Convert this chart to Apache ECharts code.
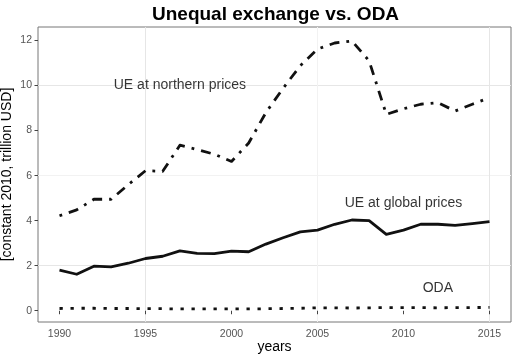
<!DOCTYPE html>
<html>
<head>
<meta charset="utf-8">
<script src="https://cdn.jsdelivr.net/npm/echarts@6/dist/echarts.min.js"></script>
<style>html,body{margin:0;padding:0;background:#fff}#c{width:512px;height:357px}</style>
</head>
<body>
<div id="c"></div>
<script>
var years = [1990,1991,1992,1993,1994,1995,1996,1997,1998,1999,2000,2001,2002,2003,2004,2005,2006,2007,2008,2009,2010,2011,2012,2013,2014,2015];
var ueNorthern = [4.22,4.48,4.95,4.95,5.6,6.22,6.19,7.35,7.16,6.95,6.63,7.45,8.8,9.88,10.88,11.62,11.89,11.98,11.1,8.72,8.97,9.17,9.24,8.87,9.17,9.46];
var ueGlobal = [1.8,1.62,1.98,1.95,2.11,2.32,2.42,2.66,2.55,2.54,2.65,2.62,2.96,3.24,3.5,3.58,3.84,4.03,4.0,3.39,3.58,3.84,3.84,3.79,3.87,3.96];
var oda = [0.10,0.11,0.11,0.10,0.10,0.09,0.09,0.08,0.08,0.08,0.08,0.08,0.09,0.10,0.11,0.13,0.13,0.12,0.13,0.14,0.14,0.14,0.13,0.14,0.14,0.15];
var xTicks = [1990,1995,2000,2005,2010,2015];
var yTicks = [0,2,4,6,8,10,12];
var annoText = ['UE at northern prices','UE at global prices','ODA'];
var annoYear = [1997,2010,2012];
var annoValue = [10,4.8,1];

function pairs(vals){ return years.map(function(y,i){ return [y, vals[i]]; }); }
var FONT = '"Liberation Sans", Arial, sans-serif';
var T = 'rgba(0,0,0,0)';
var chart = echarts.init(document.getElementById('c'), null, {renderer:'canvas'});
chart.setOption({
  animation:false,
  backgroundColor:'#fff',
  title:{text:'Unequal exchange vs. ODA', left:147, top:0,
    textStyle:{fontFamily:FONT, fontSize:19, fontWeight:'bold', color:'#000'}},
  grid:{left:38, right:1, top:27, bottom:35, show:true, borderColor:'#777', borderWidth:1, backgroundColor:'#fff',
    containLabel:false, outerBoundsMode:'none'},
  xAxis:{type:'value', min:1988.75, max:2016.25, interval:1.25,
    name:'years', nameLocation:'middle', nameGap:18, nameMoveOverlap:false,
    nameTextStyle:{fontFamily:FONT, fontSize:14, color:'#000'},
    axisLine:{show:false},
    axisTick:{show:true, length:3.5, customValues:xTicks, lineStyle:{color:'#444', width:1}},
    axisLabel:{customValues:xTicks, margin:7, fontFamily:FONT, fontSize:10.5, color:'#555',
      formatter:function(v){ return String(Math.round(v)); }},
    splitLine:{show:true, lineStyle:{color:[T,'#e6e6e6',T,'#f2f2f2'], width:1}}
  },
  yAxis:{type:'value', min:-0.5, max:12.6, interval:0.5,
    name:'[constant 2010, trillion USD]', nameLocation:'middle', nameGap:24, nameMoveOverlap:false,
    nameTextStyle:{fontFamily:FONT, fontSize:14, color:'#000'},
    axisLine:{show:false},
    axisTick:{show:true, length:3.5, customValues:yTicks, lineStyle:{color:'#444', width:1}},
    axisLabel:{customValues:yTicks, margin:6, fontFamily:FONT, fontSize:10.5, color:'#555',
      formatter:function(v){ return String(Math.round(v)); }},
    splitLine:{show:true, lineStyle:{color:[T,'#e6e6e6',T,'#f2f2f2'], width:1}}
  },
  series:[
    {type:'line', name:'UE at northern prices', data:pairs(ueNorthern), symbol:'none',
      lineStyle:{color:'#111', width:2.8, type:[2.8,7,10,7], cap:'butt', join:'round'}},
    {type:'line', name:'UE at global prices', data:pairs(ueGlobal), symbol:'none',
      lineStyle:{color:'#111', width:2.8, type:'solid', join:'round'}},
    {type:'line', name:'ODA', data:pairs(oda), symbol:'none',
      lineStyle:{color:'#111', width:2.8, type:[3.3,7.7], cap:'butt'}},
    {type:'scatter', symbolSize:0, silent:true,
      data:annoText.map(function(t,i){ return {value:[annoYear[i], annoValue[i]], name:t}; }),
      label:{show:true, position:'inside', formatter:'{b}', fontFamily:FONT, fontSize:14, color:'#000'}}
  ]
});
</script>
</body>
</html>
